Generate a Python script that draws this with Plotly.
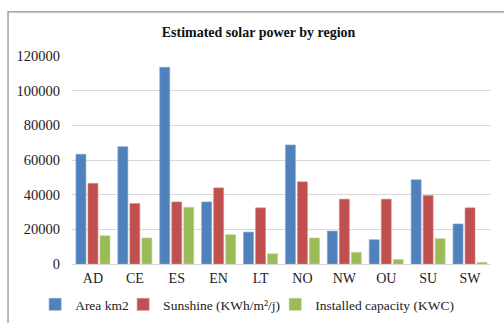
import plotly.graph_objects as go

regions = ["AD", "CE", "ES", "EN", "LT", "NO", "NW", "OU", "SU", "SW"]
area_km2 = [63300, 67700, 113500, 35800, 18400, 68700, 19000, 14000, 48600, 23100]
sunshine = [46500, 34900, 35800, 43900, 32400, 47400, 37400, 37400, 39500, 32400]
capacity = [16300, 15000, 32700, 16900, 5900, 15000, 6700, 2600, 14600, 900]
y_ticks = [0, 20000, 40000, 60000, 80000, 100000, 120000]

series_names = ["Area km2", "Sunshine (KWh/m\u00b2/j)", "Installed capacity (KWC)"]
colors = ["#4F81BD", "#C0504D", "#9BBB59"]
edges = ["#7FA3D3", "#D68480", "#B8D08A"]
legend_ids = ["legend", "legend2", "legend3"]
legend_x = [-0.088, 0.122, 0.485]

fig = go.Figure()
for name, vals, c, e, lg in zip(series_names, [area_km2, sunshine, capacity], colors, edges, legend_ids):
    fig.add_trace(go.Bar(x=regions, y=vals, name=name, legend=lg,
                         marker=dict(color=c, line=dict(color=e, width=0.6))))

font_family = "Liberation Serif, Times New Roman, serif"
legend_common = dict(orientation="h", xanchor="left", y=-0.195, yanchor="middle",
                     font=dict(size=13.5, color="#222222"), itemwidth=30,
                     bgcolor="rgba(0,0,0,0)", borderwidth=0)
layout_legends = {}
for lg, lx in zip(legend_ids, legend_x):
    layout_legends[lg] = dict(legend_common, x=lx)

fig.update_layout(
    width=504, height=323,
    margin=dict(l=72, r=13, t=56, b=59, autoexpand=False),
    paper_bgcolor="white", plot_bgcolor="white",
    font=dict(family=font_family, size=14, color="#222222"),
    title=dict(text="<b>Estimated solar power by region</b>", x=0.513, xanchor="center",
               y=0.90, yanchor="middle", font=dict(size=14, color="#111111")),
    barmode="group", bargap=0.14, bargroupgap=0.17,
    showlegend=True,
    xaxis=dict(showgrid=False, showline=False, ticks="", tickfont=dict(size=14),
               ticklabelstandoff=4),
    yaxis=dict(range=[0, 120000], tickvals=y_ticks, ticktext=[str(v) for v in y_ticks],
               showgrid=True, gridcolor="#D9D9D9", gridwidth=1,
               zeroline=True, zerolinecolor="#D9D9D9", zerolinewidth=1,
               showline=False, ticks="", tickfont=dict(size=14.5), ticklabelstandoff=11),
    shapes=[
        dict(type="rect", xref="paper", yref="paper",
             x0=-0.1527, x1=1.2, y0=-0.45, y1=1.212,
             line=dict(color="#8C8C8C", width=1.2), fillcolor="rgba(0,0,0,0)", layer="below"),
    ],
    **layout_legends,
)

fig.write_html("out.html", config={"displayModeBar": False},
               post_script="document.body.style.margin='0';document.body.style.overflow='hidden';")
